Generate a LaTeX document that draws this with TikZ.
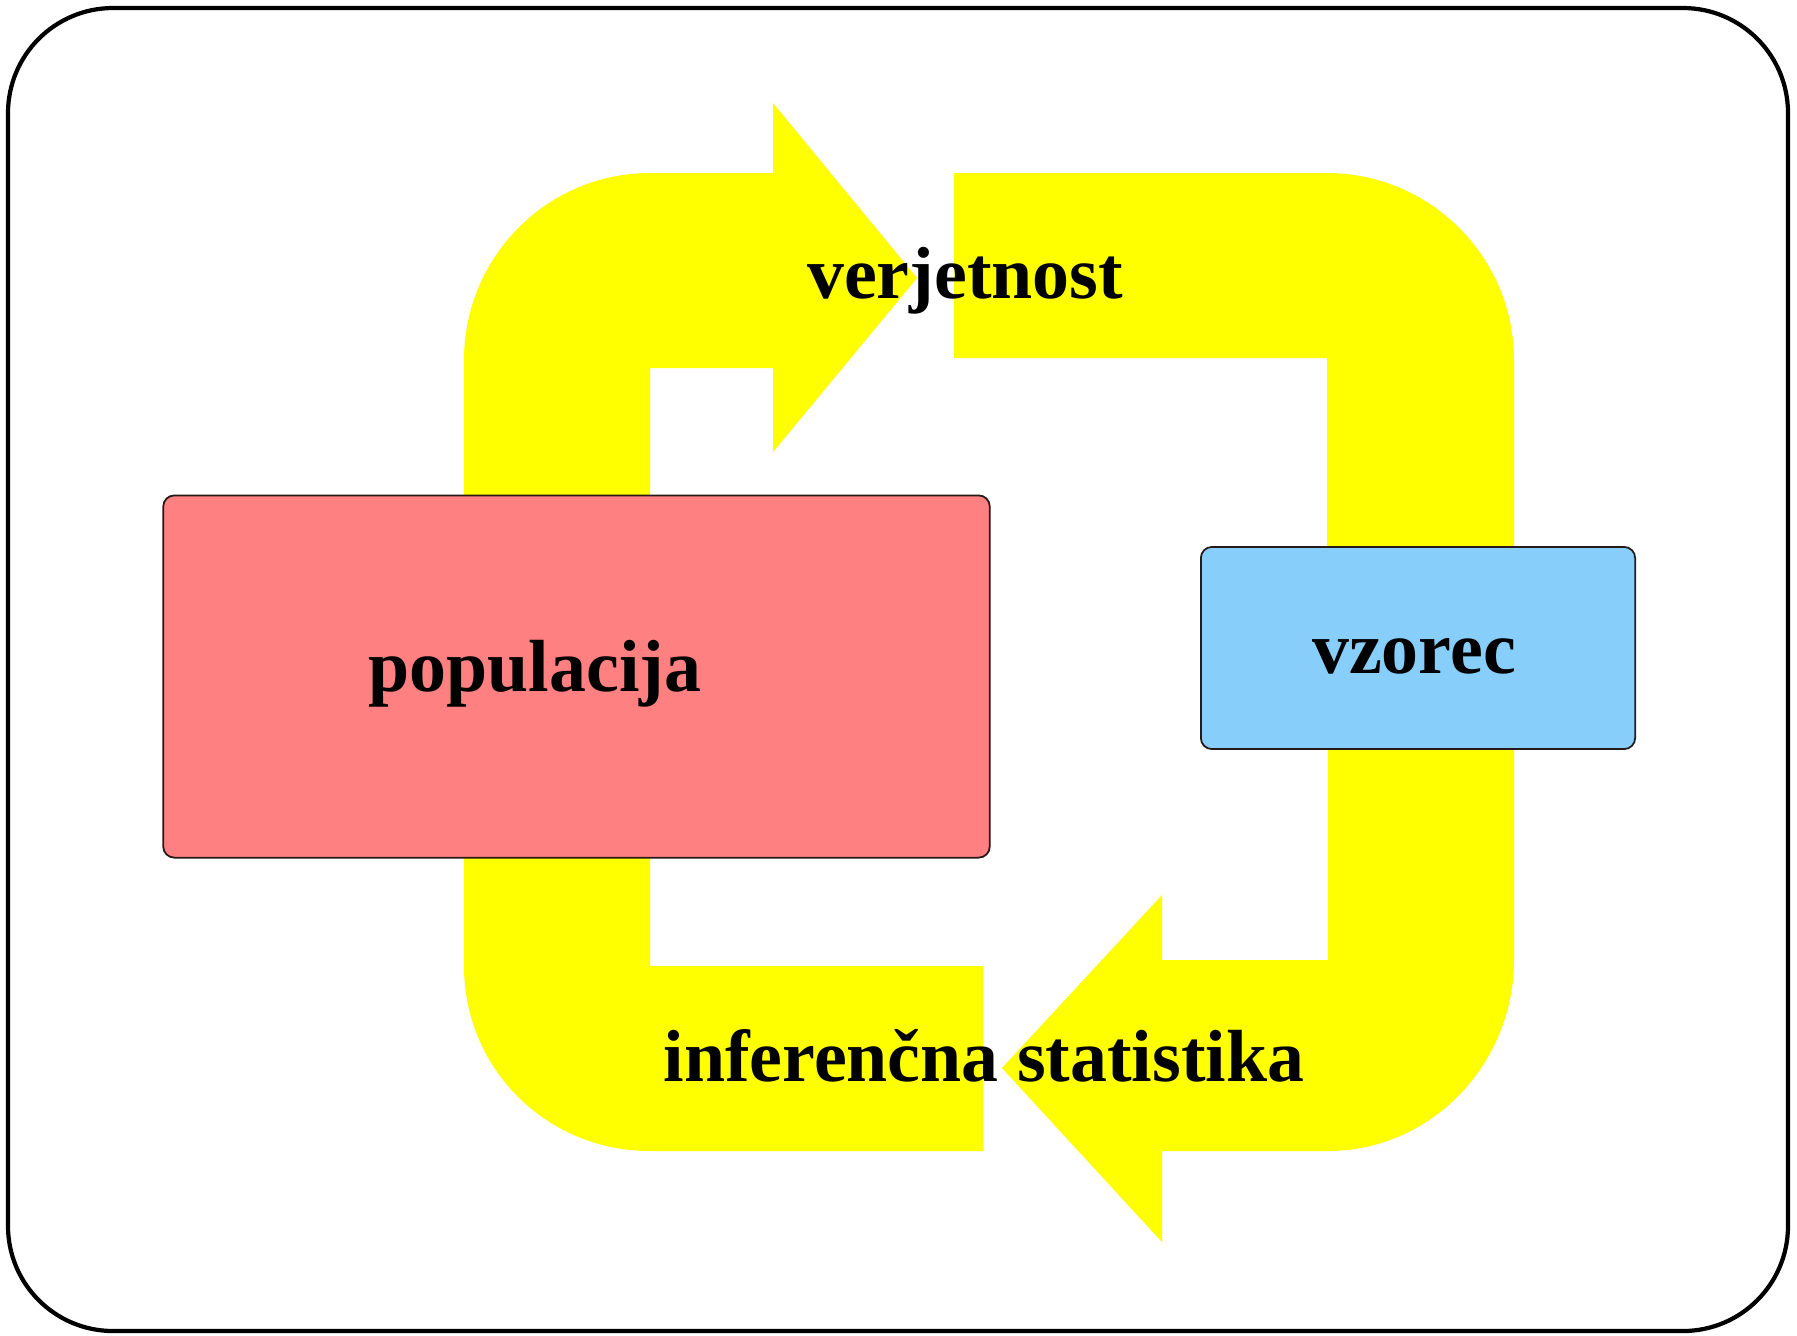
\documentclass[tikz,border=0pt]{standalone}
\usepackage{fontspec}
\setmainfont{Liberation Serif}
\definecolor{arrowyellow}{RGB}{255,255,0}
\definecolor{popred}{RGB}{255,128,128}
\definecolor{sampleblue}{RGB}{135,206,250}
\definecolor{boxline}{RGB}{40,25,25}
\begin{document}
\begin{tikzpicture}[x=0.01cm,y=-0.01cm,
  yband/.style={fill=arrowyellow, draw=none},
  boxstyle/.style={draw=boxline, line width=0.5pt, rounded corners=0.11cm, inner sep=0pt, outer sep=0pt},
  lbl/.style={font=\bfseries\fontsize{21}{25}\selectfont, anchor=base, inner sep=0pt, text=black},
  framestyle/.style={draw=black, line width=1.2pt, rounded corners=1.05cm}]
\useasboundingbox (0,0) rectangle (1797,1335);
% outer frame
\draw[framestyle] (8,8) rectangle (1788,1331);

% top arrow (pointing right)
\fill[yband] (464,620) -- (464,360) .. controls (464,257) and (547,173) .. (650,173)
  -- (773,173) -- (773,103) -- (917,278) -- (773,452) -- (773,368) -- (650,368) -- (650,620) -- cycle;
% top-right band
\fill[yband] (954,173) -- (1327,173) .. controls (1430,173) and (1514,257) .. (1514,360)
  -- (1514,650) -- (1327,650) -- (1327,358) -- (954,358) -- cycle;
% bottom arrow (pointing left)
\fill[yband] (1514,650) -- (1514,960) .. controls (1514,1064) and (1431,1151) .. (1328,1151)
  -- (1162,1151) -- (1162,1242) -- (1002,1068) -- (1162,895) -- (1162,960) -- (1328,960) -- (1328,650) -- cycle;
% bottom-left band
\fill[yband] (983,966) -- (650,966) -- (650,800) -- (464,800) -- (464,966)
  .. controls (464,1069) and (547,1151) .. (650,1151) -- (983,1151) -- cycle;

% boxes
\node[boxstyle, fill=popred, minimum width=8.26cm, minimum height=3.62cm] (pop) at (576.5,676.5) {};
\node[boxstyle, fill=sampleblue, minimum width=4.34cm, minimum height=2.02cm] (vz) at (1418,648) {};

% labels
\node[lbl] (poplbl) at (535,691) {populacija};
\node[lbl] (vzlbl) at (1414,673) {vzorec};
\node[lbl] (verj) at (965,298) {verjetnost};
\node[lbl] (infer) at (984,1081) {inferenčna statistika};
\end{tikzpicture}
\end{document}
